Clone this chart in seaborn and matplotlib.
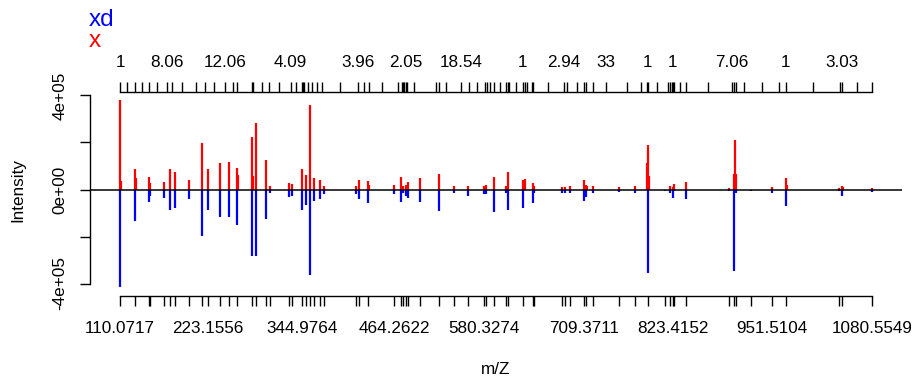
import matplotlib
matplotlib.use("Agg")
import matplotlib.pyplot as plt
import numpy as np
import pandas as pd
import seaborn as sns

# ---- data -------------------------------------------------------------
mz = [110.0717, 111.75, 129.04, 130.72, 147.11, 149.17, 166.85, 174.98, 181.05, 199.11,
      215.89, 223.1556, 239.12, 250.73, 261.06, 262.74, 280.42, 282.09, 285.19, 298.87,
      303.26, 327.78, 332.04, 344.9764, 350.10, 355.27, 360.43, 368.17, 373.33, 414.63,
      418.50, 430.11, 431.79, 464.2622, 473.09, 475.67, 478.77, 481.35, 497.22, 521.74,
      541.10, 559.55, 580.3274, 582.78, 592.33, 608.59, 610.78, 630.53, 632.30, 643.05,
      644.40, 680.86, 684.34, 691.18, 709.3711, 711.06, 712.50, 721.12, 754.03, 774.29,
      789.78, 791.07, 792.36, 813.01, 819.85, 823.4152, 825.01, 840.49, 895.98, 902.82,
      904.11, 905.40, 924.38, 951.5104, 969.16, 970.45, 1038.33, 1041.42, 1042.60, 1080.5549]
x_intensity = [381000, 35000, 87000, 48000, 52000, 27000, 34000, 86000, 76000, 39000,
               199000, 86000, 114000, 117000, 90000, 63000, 223000, 59000, 283000, 125000,
               17000, 28000, 25000, 87000, 63000, 361000, 48000, 39000, 17000, 17000,
               39000, 35000, 21000, 20000, 54000, 14000, 21000, 32000, 51000, 68000,
               14000, 17000, 17000, 18000, 54000, 16000, 75000, 39000, 45000, 27000,
               14000, 11000, 11000, 17000, 42000, 21000, 15000, 13000, 10000, 17000,
               114000, 188000, 58000, 0, 13000, 10000, 24000, 32000, 5000, 66000,
               209000, 66000, 0, 11000, 49000, 20000, 5000, 17000, 10000, 7000]
xd_intensity = [413000, 0, 134000, 0, 52000, 28000, 35000, 86000, 78000, 39000,
                197000, 86000, 116000, 117000, 152000, 0, 282000, 0, 283000, 125000,
                17000, 31000, 28000, 89000, 66000, 362000, 51000, 39000, 18000, 18000,
                39000, 56000, 0, 21000, 54000, 14000, 28000, 35000, 52000, 93000,
                16000, 28000, 20000, 20000, 94000, 16000, 86000, 79000, 0, 56000,
                14000, 13000, 13000, 17000, 49000, 31000, 0, 14000, 11000, 17000,
                0, 355000, 0, 7000, 13000, 35000, 7000, 39000, 7000, 345000,
                0, 15000, 7000, 14000, 70000, 0, 7000, 27000, 0, 10000]

bottom_label_mz = [110.0717, 223.1556, 344.9764, 464.2622, 580.3274, 709.3711,
                   823.4152, 951.5104, 1080.5549]

top_tick_mz = [110.07, 119.49, 129.04, 138.46, 147.88, 157.43, 171.11, 177.18, 190.08, 208.15,
               219.76, 230.99, 245.19, 256.28, 260.67, 280.42, 282.09, 292.93, 302.35, 315.65,
               330.36, 337.20, 344.55, 345.84, 347.52, 352.68, 357.85, 364.30, 370.75, 393.98,
               416.82, 424.95, 431.02, 447.79, 468.44, 473.99, 475.28, 476.96, 478.77, 480.44,
               489.48, 517.48, 521.74, 530.39, 550.13, 560.45, 570.39, 581.10, 584.07, 587.94,
               592.72, 600.07, 608.59, 610.39, 611.68, 620.72, 630.14, 632.72, 635.69, 642.14,
               643.43, 662.02, 682.67, 687.31, 699.44, 708.86, 711.06, 720.48, 737.64, 763.97,
               782.42, 790.55, 791.84, 803.07, 816.88, 819.85, 822.04, 823.33, 825.01, 833.14,
               840.88, 868.50, 899.86, 902.44, 904.63, 915.34, 938.18, 960.51, 969.54, 1004.39,
               1039.62, 1041.42, 1061.17, 1080.55]
top_label_mz = [110.07, 171.11, 245.19, 330.36, 416.82, 478.77, 550.13, 630.14,
                682.67, 737.64, 790.55, 823.33, 899.86, 969.54, 1041.42]
top_labels = ["1", "8.06", "12.06", "4.09", "3.96", "2.05", "18.54", "1",
              "2.94", "33", "1", "1", "7.06", "1", "3.03"]

y_ticks = [-4e5, -2e5, 0, 2e5, 4e5]
y_labels = ["-4e+05", "", "0e+00", "", "4e+05"]

df = pd.DataFrame({"mz": mz, "x": x_intensity, "xd": xd_intensity})

# ---- style ------------------------------------------------------------
sns.set_style("white", {"axes.edgecolor": "black", "text.color": "black",
                        "xtick.color": "black", "ytick.color": "black",
                        "axes.labelcolor": "black"})
plt.rcParams["font.family"] = ["Liberation Sans", "DejaVu Sans"]
FS = 12.3

W, H = 915, 383
fig = plt.figure(figsize=(W / 100, H / 100), dpi=100)

def frac_x(px):
    return px / W

def frac_y(py):
    return 1 - py / H

left_px, right_px, top_px, bot_px = 90, 902, 87, 292
ax = fig.add_axes([frac_x(left_px), frac_y(bot_px),
                   (right_px - left_px) / W, (bot_px - top_px) / H])

span = max(mz) - min(mz)
xlim = (min(mz) - 0.04 * span, max(mz) + 0.04 * span)
ax.set_xlim(*xlim)
ymax = 436000
ax.set_ylim(-ymax, ymax)

# peaks
ax.vlines(df["mz"], 0, df["x"], color="#FF0000", lw=1.6)
ax.vlines(df["mz"], 0, -df["xd"], color="#0000FF", lw=1.6)
ax.axhline(0, color="black", lw=1.1)

# y axis (R style)
for s in ["top", "right", "bottom"]:
    ax.spines[s].set_visible(False)
ax.spines["left"].set_bounds(-4e5, 4e5)
ax.spines["left"].set_linewidth(1.0)
ax.set_yticks(y_ticks)
ax.set_yticklabels(y_labels, rotation=90, va="center", fontsize=FS)
ax.tick_params(axis="y", left=True, direction="out", length=7.2, width=1.0, pad=9)
ax.set_xticks([])

fig.text(frac_x(18), frac_y(189.5), "Intensity", rotation=90, ha="center",
         va="center", fontsize=FS)
fig.text(frac_x(496), frac_y(369), "m/Z", ha="center", va="center", fontsize=FS)

# bottom axis: peak m/z of xd
bottom_ticks = df.loc[df["xd"] > 0, "mz"].tolist()
axb = fig.add_axes([frac_x(left_px), frac_y(295) - 0.002,
                    (right_px - left_px) / W, 0.002])
axb.set_xlim(*xlim)
axb.patch.set_visible(False)
for s in ["top", "right", "left"]:
    axb.spines[s].set_visible(False)
axb.spines["bottom"].set_bounds(min(bottom_ticks), max(bottom_ticks))
axb.spines["bottom"].set_linewidth(1.0)
axb.set_yticks([])
axb.xaxis.tick_bottom()
axb.set_xticks(bottom_ticks)
axb.set_xticklabels([f"{v:.4f}" if v in bottom_label_mz else "" for v in bottom_ticks],
                    fontsize=FS)
axb.tick_params(axis="x", bottom=True, direction="out", length=7.2, width=1.0, pad=11)

# top axis
axt = fig.add_axes([frac_x(left_px), frac_y(93),
                    (right_px - left_px) / W, 0.002])
axt.set_xlim(*xlim)
axt.patch.set_visible(False)
for s in ["bottom", "right", "left"]:
    axt.spines[s].set_visible(False)
axt.spines["top"].set_bounds(min(top_tick_mz), max(top_tick_mz))
axt.spines["top"].set_linewidth(1.0)
axt.set_yticks([])
axt.xaxis.tick_top()
axt.set_xticks(top_tick_mz)
lab_map = dict(zip(top_label_mz, top_labels))
axt.set_xticklabels([lab_map.get(v, "") for v in top_tick_mz], fontsize=FS)
axt.tick_params(axis="x", top=True, bottom=False, labeltop=True, labelbottom=False,
                direction="out", length=7.2, width=1.0, pad=9)

# legend-like titles
fig.text(frac_x(89), frac_y(20), "xd", color="#0000FF", fontsize=17.5,
         ha="left", va="center")
fig.text(frac_x(89), frac_y(41), "x", color="#FF0000", fontsize=17.5,
         ha="left", va="center")

fig.savefig("out.png", dpi=100)
